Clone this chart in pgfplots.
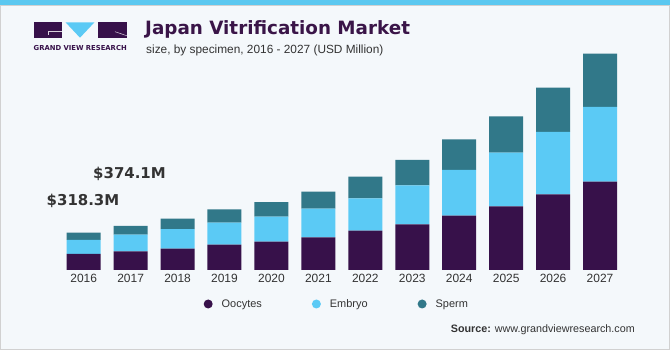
\documentclass[border=0pt]{standalone}
\usepackage{fontspec}
\setmainfont{Liberation Sans}
\newfontfamily\dvb{DejaVu Sans}
\usepackage{pgfplots}
\usepackage{pgfplotstable}
\pgfplotsset{compat=1.18}
\definecolor{oocyte}{HTML}{37114A}
\definecolor{embryo}{HTML}{5BCAF5}
\definecolor{sperm}{HTML}{317889}
\definecolor{bg}{HTML}{F4F8FB}
\definecolor{txt}{HTML}{333333}
\definecolor{ttl}{HTML}{3A1548}
\definecolor{stripe}{HTML}{5BC8F0}

\pgfplotstableread{
year O E S
2016 136 119.3 63
2017 159 141 74.1
2018 181 167 88
2019 215 187 114
2020 241 213 122
2021 278 243 145
2022 334 275 184
2023 388 332 215
2024 462 388 261
2025 541 456 309
2026 643 530 377
2027 751 635 453
}\datatable

\begin{document}
\begin{tikzpicture}
\useasboundingbox (0,0) rectangle (670bp,350bp);
\fill[bg] (0,0) rectangle (670bp,350bp);
\fill[stripe] (0,345bp) rectangle (670bp,350bp);
\draw[black!18, line width=0.8bp] (0.4bp,0.4bp) rectangle (669.6bp,345bp);
% logo
\fill[oocyte] (33.5bp,327.5bp) rectangle (61.7bp,312.3bp);
\fill[embryo] (65.7bp,327.5bp) -- (94.3bp,327.5bp) -- (80bp,312.3bp) -- cycle;
\fill[oocyte] (98.3bp,327.5bp) rectangle (126.7bp,312.3bp);
\draw[white!80!oocyte, line width=0.5bp] (61.7bp,318.3bp) -- (48.3bp,318.3bp) -- (48.3bp,314.5bp);
\draw[white!80!oocyte, line width=0.5bp] (115bp,318.3bp) -- (126.7bp,314.3bp);
\node[anchor=base west, font=\dvb\bfseries\fontsize{6.85}{8}\selectfont, text=oocyte, inner sep=0] at (33.5bp,299.3bp) {GRAND VIEW RESEARCH};
% titles
\node[anchor=base west, font=\dvb\bfseries\fontsize{18.4}{22}\selectfont, text=ttl, inner sep=0] at (145bp,315bp) {Japan Vitrification Market};
\node[anchor=base west, font=\fontsize{11.9}{14}\selectfont, text=txt, inner sep=0] at (146bp,296bp) {size, by specimen, 2016 - 2027 (USD Million)};
% annotations
\node[anchor=base west, font=\dvb\bfseries\fontsize{15}{18}\selectfont, text=txt, inner sep=0] at (46.5bp,144.8bp) {\$318.3M};
\node[anchor=base west, font=\dvb\bfseries\fontsize{15}{18}\selectfont, text=txt, inner sep=0] at (93bp,171.5bp) {\$374.1M};
% source
\node[anchor=base east, font=\fontsize{10.8}{13}\selectfont, text=txt, inner sep=0] at (635bp,17.3bp) {\textbf{Source:} www.grandviewresearch.com};

\begin{axis}[
  at={(60.2bp,80bp)}, anchor=south west,
  scale only axis, width=563.3bp, height=220bp,
  xmin=-0.5, xmax=11.5, ymin=0, ymax=1870,
  axis x line=bottom, axis y line=none,
  axis line style={draw=none},
  major tick length=0pt,
  ybar stacked, bar width=34bp,
  xtick=data,
  xticklabels from table={\datatable}{year},
  xticklabel style={font=\fontsize{12}{14}\selectfont, text=txt, inner sep=0pt, anchor=north, yshift=-3.5bp},
  ytick=\empty,
  legend image code/.code={\fill[#1] (4.5bp,0bp) circle (4.5bp);},
  legend columns=3,
  legend style={at={(axis description cs:0.2544,-0.1545)}, anchor=west, draw=none, fill=none,
    font=\fontsize{11}{13}\selectfont, text=txt, inner sep=0pt,
    /tikz/every odd column/.append style={column sep=7bp},
    /tikz/every even column/.append style={column sep=48bp}},
]
\addplot[fill=oocyte, draw=none] table[x expr=\coordindex, y=O] {\datatable};
\addplot[fill=embryo, draw=none] table[x expr=\coordindex, y=E] {\datatable};
\addplot[fill=sperm, draw=none] table[x expr=\coordindex, y=S] {\datatable};
\legend{Oocytes, Embryo, Sperm}
\end{axis}
\end{tikzpicture}
\end{document}
